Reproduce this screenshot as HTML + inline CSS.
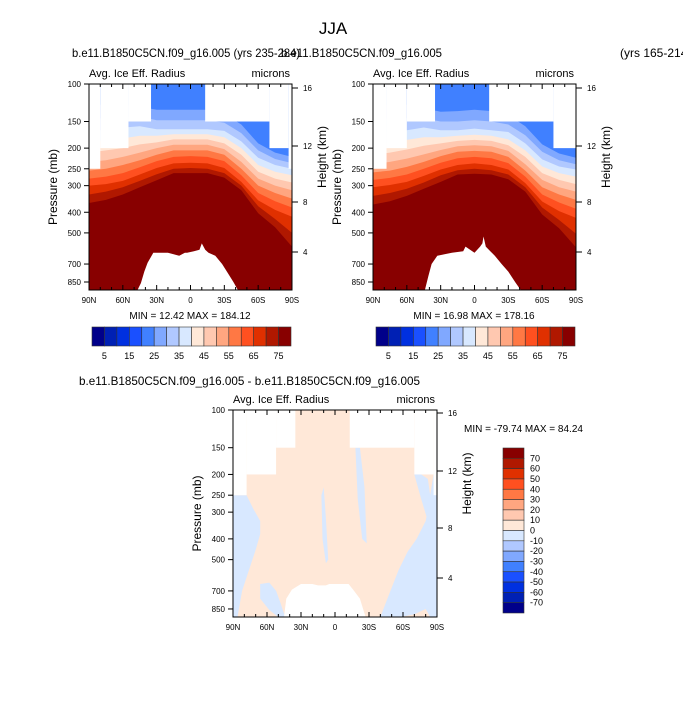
<!DOCTYPE html>
<html><head><meta charset="utf-8"><style>
html,body{margin:0;padding:0;background:#fff;}
svg{display:block;font-family:"Liberation Sans",Arial,sans-serif;}
</style></head><body>
<svg id="fig" width="683" height="703" viewBox="0 0 683 703" xmlns="http://www.w3.org/2000/svg">
<text x="333" y="34" font-size="17" text-anchor="middle">JJA</text>
<text x="72" y="57" font-size="12" textLength="228" lengthAdjust="spacingAndGlyphs">b.e11.B1850C5CN.f09_g16.005 (yrs 235-284)</text>
<text x="281" y="57" font-size="12" textLength="161" lengthAdjust="spacingAndGlyphs">b.e11.B1850C5CN.f09_g16.005</text>
<text x="620" y="57" font-size="12">(yrs 165-214)</text>
<text x="79" y="385" font-size="12" textLength="341" lengthAdjust="spacingAndGlyphs">b.e11.B1850C5CN.f09_g16.005 - b.e11.B1850C5CN.f09_g16.005</text>
<g id="g1"></g>
<g id="g2"></g>
<g id="g3"></g>
</svg>
<script>
const NS='http://www.w3.org/2000/svg';
const lats=[90,75,60,45,30,15,0,-15,-30,-45,-60,-75,-90];
const absColors=["#00008a","#0020b4","#0030e0","#1a50ff","#4080ff","#80a8ff","#b0c8ff","#d8e8ff","#ffe8d8","#ffc8b0","#ffa680","#ff7844","#ff5020","#e03000","#b01800","#880000"];
const absLabels=["5","15","25","35","45","55","65","75"];
const diffLabels=["70","60","50","40","30","20","10","0","-10","-20","-30","-40","-50","-60","-70"];
const pTicks=[100,150,200,250,300,400,500,700,850];
const hTicks=[16,12,8,4];
const latTicks=["90N","60N","30N","0","30S","60S","90S"];
const latTickVals=[90,60,30,0,-30,-60,-90];
// contour pressures (mb) at each latitude, increasing value thresholds (panel 1)
const c1=[
[90,90,90,90,92,92,92,92,96,105,130,140,150],
[95,95,95,95,98,98,98,98,104,118,145,160,170],
[100,100,100,100,105,105,105,105,112,130,160,178,190],
[110,110,110,112,118,118,118,118,124,142,175,195,205],
[125,125,125,128,132,132,132,132,138,155,190,210,220],
[145,145,142,142,148,148,148,148,152,170,205,225,235],
[165,165,160,158,163,163,163,163,166,186,222,240,250],
[185,185,180,175,175,172,172,172,178,200,240,258,268],
[210,205,200,192,188,182,182,182,190,215,258,278,290],
[232,228,220,210,200,193,193,193,202,232,278,300,315],
[255,250,240,228,215,205,205,205,215,250,300,325,345],
[278,272,262,246,230,220,218,220,230,268,325,355,380],
[300,295,285,266,248,236,234,236,248,288,352,390,420],
[330,320,305,285,265,250,248,250,262,300,375,430,500],
[362,350,330,305,283,262,262,262,275,315,404,470,580]];
// panel 2 contours
const c2=[
[90,90,90,90,92,92,92,92,96,108,132,142,150],
[95,95,95,95,98,98,98,98,104,120,148,162,170],
[100,100,100,100,106,106,106,106,114,132,162,180,190],
[110,110,110,114,120,120,118,120,126,145,178,198,205],
[125,125,125,130,135,134,132,134,140,158,192,212,222],
[145,145,145,145,150,150,148,150,155,174,208,228,238],
[168,168,165,160,165,165,162,165,168,190,226,244,252],
[190,188,183,178,178,175,173,175,182,205,244,262,272],
[215,210,203,195,190,185,183,185,194,220,262,282,295],
[238,232,224,214,204,196,194,196,206,238,282,305,320],
[260,255,245,232,218,208,206,208,220,255,305,330,350],
[282,276,266,250,234,223,220,223,235,272,330,360,385],
[305,298,288,270,252,240,236,240,252,292,356,395,425],
[335,325,310,290,268,254,250,254,266,305,380,435,505],
[368,355,335,310,288,266,264,266,280,320,410,475,585]];
const top1=[[90,80,250],[80,55,200],[55,35,150],[35,-13,100],[-13,-70,150],[-70,-87,200],[-87,-90,250]];
const top2=[[90,78,250],[78,60,200],[60,35,150],[35,-13,100],[-13,-70,150],[-70,-90,200]];
const top3=[[90,78,250],[78,52,200],[52,35,150],[35,-13,100],[-13,-70,150],[-70,-87,200],[-87,-90,250]];
const hole1Lat=[47,44,41,38,33,20,10,5,3,-3,-8,-10,-13,-16,-22,-28,-33,-38,-42];
const hole1P=[930,860,760,690,620,620,640,620,620,610,600,560,600,620,640,700,770,850,930];
const hole2Lat=[44,41,38,33,20,10,8,0,-5,-7,-8,-10,-14,-18,-24,-30,-36,-41];
const hole2P=[930,800,700,640,620,610,580,620,580,560,520,580,610,640,700,760,850,930];
const hole3Lat=[45,43,38,34,30,20,15,8,5,0,-12,-16,-22,-27];
const hole3P=[930,760,690,670,650,650,660,660,650,650,650,690,760,930];
const negA_lat=[90,78,72,66,66,70,76,82,86,90];
const negA_p=[250,250,290,330,380,450,560,700,930,930];
const negB_lat=[66,58,52,48,44,50,58,66];
const negB_p=[650,640,700,800,930,930,860,760];
const negC_lat=[-40,-48,-56,-64,-72,-80,-87,-90,-90,-84,-80,-70,-58,-46];
const negC_p=[930,720,560,460,400,330,200,250,930,930,850,900,930,930];
const negD_lat=[-70,-76,-82,-86,-82,-76];
const negD_p=[200,200,210,300,330,260];
const negE_lat=[12,10,8,6,8,11];
const negE_p=[250,230,320,500,520,400];
const negF_lat=[-18,-22,-26,-28,-24,-20];
const negF_p=[150,150,230,420,400,260];

function el(t,a,p){const e=document.createElementNS(NS,t);for(const k in a)e.setAttribute(k,a[k]);p.appendChild(e);return e;}

function panel(g,x0,y0,w,h,cfg){
  const xs=lat=>x0+(90-lat)/180*w;
  const k=198/Math.log(8.5)*(h/206);
  const ys=p=>Math.min(y0+h,y0+Math.log(p/100)*k);
  const cid='clip'+cfg.id;
  const cp=el('clipPath',{id:cid},g);el('rect',{x:x0,y:y0,width:w,height:h},cp);
  const fg=el('g',{'clip-path':'url(#'+cid+')'},g);
  if(cfg.contours){
    let r=el('rect',{x:x0,y:y0,width:w,height:h,fill:cfg.colors[4]},fg);
    
    
    cfg.contours.forEach((row,i)=>{
      let d='M'+xs(90)+','+(y0+h+5);
      row.forEach((p,j)=>{d+=' L'+xs(lats[j]).toFixed(1)+','+ys(p).toFixed(1);});
      d+=' L'+xs(-90)+','+(y0+h+5)+'Z';
      const pa=el('path',{d:d,fill:cfg.colors[Math.max(4,i+1)]},fg);
      
      
    });
  } else {
    const r=el('rect',{x:x0,y:y0,width:w,height:h,fill:'#ffe8d8'},fg);
    
    
    cfg.negs.forEach(n=>{
      let d='';n[0].forEach((lt,j)=>{d+=(j?' L':'M')+xs(lt).toFixed(1)+','+ys(n[1][j]).toFixed(1);});
      const pa=el('path',{d:d+'Z',fill:'#d8e8ff'},fg);
      
      
    });
  }
  cfg.top.forEach(s=>{
    const r=el('rect',{x:xs(s[0]),y:y0-1,width:xs(s[1])-xs(s[0]),height:ys(s[2])-y0+1,fill:'#fff'},fg);
    
    
  });
  let d='';cfg.holeLat.forEach((lt,j)=>{d+=(j?' L':'M')+xs(lt).toFixed(1)+','+ys(cfg.holeP[j]).toFixed(1);});
  const hp=el('path',{d:d+'Z',fill:'#fff'},fg);
  
  
  const fr=el('rect',{x:x0,y:y0,width:w,height:h,fill:'none',stroke:'#000','stroke-width':1},g);
  
  
  for(let lt=90;lt>=-90;lt-=10){
    const x=xs(lt),big=lt%30===0,L=big?5:3;
    el('line',{x1:x,x2:x,y1:y0+h,y2:y0+h-L,stroke:'#000'},g);
    el('line',{x1:x,x2:x,y1:y0,y2:y0+L,stroke:'#000'},g);
  }
  latTicks.forEach((t,i)=>{const tx=el('text',{x:xs(latTickVals[i]),y:y0+h+13,'font-size':8,'text-anchor':'middle'},g);tx.textContent=t;
    });
  pTicks.forEach(p=>{const y=ys(p);el('line',{x1:x0-5,x2:x0,y1:y,y2:y,stroke:'#000'},g);
    const tx=el('text',{x:x0-8,y:y+3,'font-size':8,'text-anchor':'end'},g);tx.textContent=p;
    });
  hTicks.forEach((hv,i)=>{const y=cfg.hY[i];el('line',{x1:x0+w,x2:x0+w+6,y1:y,y2:y,stroke:'#000'},g);
    const tx=el('text',{x:x0+w+11,y:y+3,'font-size':8},g);tx.textContent=hv;
    });
  let t=el('text',{x:x0-32,y:y0+h/2,'font-size':12,'text-anchor':'middle',transform:'rotate(-90 '+(x0-32)+' '+(y0+h/2)+')'},g);t.textContent='Pressure (mb)';
  
  t=el('text',{x:x0+w+34,y:y0+h/2-30,'font-size':12,'text-anchor':'middle',transform:'rotate(-90 '+(x0+w+34)+' '+(y0+h/2-30)+')'},g);t.textContent='Height (km)';
  
  t=el('text',{x:x0,y:y0-7,'font-size':11},g);t.textContent='Avg. Ice Eff. Radius';
  
  t=el('text',{x:x0+w-2,y:y0-7,'font-size':11,'text-anchor':'end'},g);t.textContent='microns';
  
}
function hbar(g,x0,y0,w,h,minmax,cx){
  const bw=w/16;
  absColors.forEach((c,i)=>{const r=el('rect',{x:x0+i*bw,y:y0,width:bw,height:h,fill:c,stroke:'#333','stroke-width':0.6},g);
    });
  absLabels.forEach((l,i)=>{const t=el('text',{x:x0+(1+2*i)*bw,y:y0+h+13,'font-size':9,'text-anchor':'middle'},g);t.textContent=l;
    });
  const t=el('text',{x:cx,y:y0-8,'font-size':10,'text-anchor':'middle'},g);t.textContent=minmax;
  
}
const g1=document.getElementById('g1'),g2=document.getElementById('g2'),g3=document.getElementById('g3');
panel(g1,89,84,203,206,{id:1,contours:c1,colors:absColors,top:top1,holeLat:hole1Lat,holeP:hole1P,hY:[88,146,202,252]});
panel(g2,373,84,203,206,{id:2,contours:c2,colors:absColors,top:top2,holeLat:hole2Lat,holeP:hole2P,hY:[88,146,202,252]});
panel(g3,233,410,204,207,{id:3,negs:[[negA_lat,negA_p],[negB_lat,negB_p],[negC_lat,negC_p],[negD_lat,negD_p],[negE_lat,negE_p],[negF_lat,negF_p]],top:top3,holeLat:hole3Lat,holeP:hole3P,hY:[413,471,528,578]});
hbar(g1,92,327,199,19,'MIN =  12.42  MAX = 184.12',190);
hbar(g2,376,327,199,19,'MIN =  16.98  MAX = 178.16',474);
const vb=(613-448)/16;
absColors.slice().reverse().forEach((c,i)=>{const r=el('rect',{x:503,y:448+i*vb,width:21,height:vb,fill:c,stroke:'#333','stroke-width':0.6},g3);
  });
diffLabels.forEach((l,i)=>{const t=el('text',{x:530,y:448+(i+1)*vb+3,'font-size':9},g3);t.textContent=l;
  });
const mt=el('text',{x:464,y:432,'font-size':10},g3);mt.textContent='MIN = -79.74  MAX =  84.24';

</script>
</body></html>
